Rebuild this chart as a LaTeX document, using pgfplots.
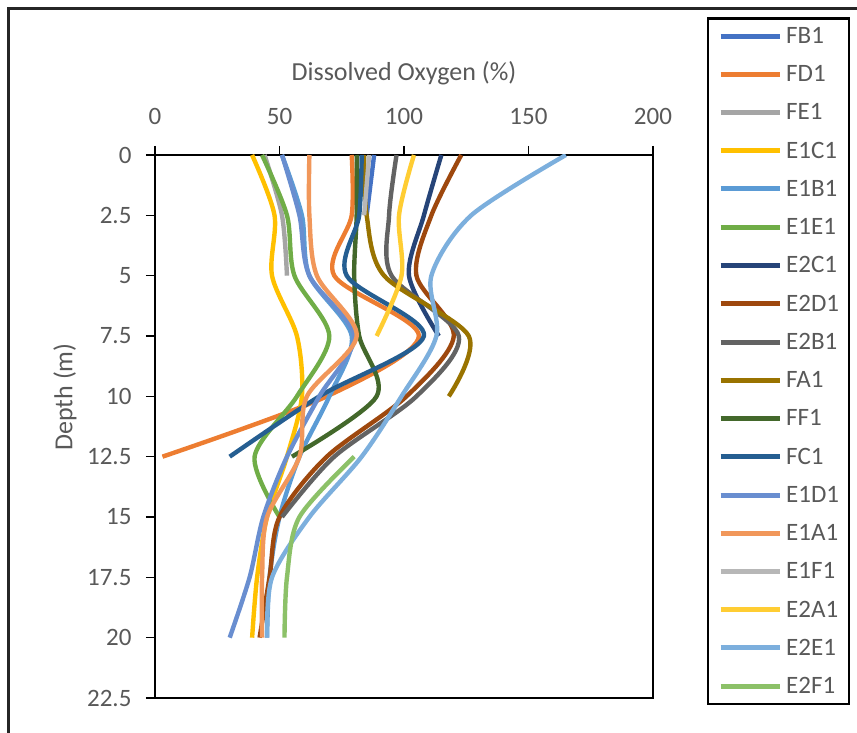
\documentclass[border=0pt]{standalone}
\usepackage{pgfplots}
\pgfplotsset{compat=1.18}
\usepackage{fontspec}
\setmainfont{Carlito}
\definecolor{labelgray}{HTML}{595959}
\definecolor{cFB}{HTML}{4472C4}
\definecolor{cFD}{HTML}{ED7D31}
\definecolor{cFE}{HTML}{A5A5A5}
\definecolor{cEaC}{HTML}{FFC000}
\definecolor{cEaB}{HTML}{5B9BD5}
\definecolor{cEaE}{HTML}{70AD47}
\definecolor{cEbC}{HTML}{264478}
\definecolor{cEbD}{HTML}{9E480E}
\definecolor{cEbB}{HTML}{636363}
\definecolor{cFA}{HTML}{997300}
\definecolor{cFF}{HTML}{43682B}
\definecolor{cFC}{HTML}{255E91}
\definecolor{cEaD}{HTML}{698ED0}
\definecolor{cEaA}{HTML}{F1975A}
\definecolor{cEaF}{HTML}{B7B7B7}
\definecolor{cEbA}{HTML}{FFCD33}
\definecolor{cEbE}{HTML}{7CAFDD}
\definecolor{cEbF}{HTML}{8CC168}
\begin{document}
\begin{tikzpicture}[x=1pt,y=1pt]
\begin{axis}[
  width=498pt, height=543pt, scale only axis,
  xmin=0, xmax=200, ymin=0, ymax=22.5, y dir=reverse,
  xtick={0,50,100,150,200},
  ytick={0,2.5,5,7.5,10,12.5,15,17.5,20,22.5},
  yticklabels={0,2.5,5,7.5,10,12.5,15,17.5,20,22.5},
  xtick pos=right, xticklabel pos=right,
  ytick pos=left, yticklabel pos=left,
  tick align=outside, major tick length=9pt,
  axis line style={line width=2pt, black},
  tick style={line width=1.5pt, black},
  /pgf/number format/assume math mode=true,
  tick label style={font=\fontsize{25}{30}\selectfont, color=labelgray},
  xticklabel style={yshift=18pt},
  yticklabel style={xshift=-11pt},
  xlabel={Dissolved Oxygen (\%)},
  ylabel={Depth (m)},
  label style={font=\fontsize{26}{30}\selectfont, color=labelgray},
  xlabel style={at={(axis description cs:0.5,1.151)}, anchor=center},
  ylabel style={at={(axis description cs:-0.1807,0.5543)}, anchor=center, rotate=0},
  every axis plot/.append style={smooth, tension=0.5, line width=4.4pt, no markers},
  legend cell align=left,
  legend image code/.code={\draw[#1, line width=5pt] (0pt,0pt) -- (59pt,0pt);},
  legend style={at={(axis description cs:1.1084,1.2541)}, anchor=north west, draw=black, line width=2.5pt,
    inner xsep=10pt, inner ysep=9pt, row sep=20.6pt, column sep=4pt,
    font=\fontsize{25}{30}\selectfont, text=labelgray,
    nodes={inner sep=0pt}},
]
\coordinate (TL) at (axis description cs:0,1);
\addplot[cFB] coordinates {(88,0) (85,2.5)};
\addlegendentry{FB1}
\addplot[cFD] coordinates {(79,0) (79,2.5) (72,5) (106,7.5) (69,10) (3,12.5)};
\addlegendentry{FD1}
\addplot[cFE] coordinates {(44,0) (51,2.5) (53,5)};
\addlegendentry{FE1}
\addplot[cEaC] coordinates {(39,0) (48,2.5) (47,5) (57,7.5) (59,10) (53,12.5) (45,15) (41,17.5) (39,20)};
\addlegendentry{E1C1}
\addplot[cEaB] coordinates {(51,0) (59,2.5) (62,5) (79,7.5) (70,10) (58,12.5) (50,15) (46,17.5) (45,20)};
\addlegendentry{E1B1}
\addplot[cEaE] coordinates {(43,0) (53,2.5) (56,5) (70,7.5) (57,10) (40,12.5) (50,15)};
\addlegendentry{E1E1}
\addplot[cEbC] coordinates {(115,0) (108,2.5) (102,5) (114,7.5)};
\addlegendentry{E2C1}
\addplot[cEbD] coordinates {(123,0) (111,2.5) (105,5) (120,7.5) (101,10) (69,12.5) (50,15) (46,17.5) (42,20)};
\addlegendentry{E2D1}
\addplot[cEbB] coordinates {(97,0) (94,2.5) (95,5) (122,7.5) (105,10) (72,12.5) (51,15)};
\addlegendentry{E2B1}
\addplot[cFA] coordinates {(84,0) (85,2.5) (92,5) (126,7.5) (118,10)};
\addlegendentry{FA1}
\addplot[cFF] coordinates {(81,0) (81,2.5) (80,5) (82,7.5) (89,10) (55,12.5)};
\addlegendentry{FF1}
\addplot[cFC] coordinates {(83,0) (82,2.5) (77,5) (108,7.5) (66,10) (30,12.5)};
\addlegendentry{FC1}
\addplot[cEaD] coordinates {(51,0) (58,2.5) (62,5) (80,7.5) (66,10) (53,12.5) (43.5,15) (38,17.5) (30,20)};
\addlegendentry{E1D1}
\addplot[cEaA] coordinates {(62,0) (62,2.5) (65,5) (81,7.5) (61,10) (58,12.5) (45,15) (43,17.5) (43,20)};
\addlegendentry{E1A1}
\addplot[cEaF] coordinates {(86,0) (84,2.5)};
\addlegendentry{E1F1}
\addplot[cEbA] coordinates {(104,0) (98,2.5) (99,5) (89,7.5)};
\addlegendentry{E2A1}
\addplot[cEbE] coordinates {(165,0) (127,2.5) (111,5) (113,7.5) (99,10) (83,12.5) (62,15) (47,17.5) (45,20)};
\addlegendentry{E2E1}
\addplot[cEbF] coordinates {(80,12.5) (58,15) (53,17.5) (52,20)};
\addlegendentry{E2F1}
\end{axis}
\pgfresetboundingbox
\path[use as bounding box] ([shift={(-155,155)}]TL) rectangle ([shift={(702,-578)}]TL);
\draw[line width=3pt, black!85] ([shift={(-146,-580)}]TL) -- ([shift={(-146,146)}]TL) -- ([shift={(704,146)}]TL);
\end{tikzpicture}
\end{document}
